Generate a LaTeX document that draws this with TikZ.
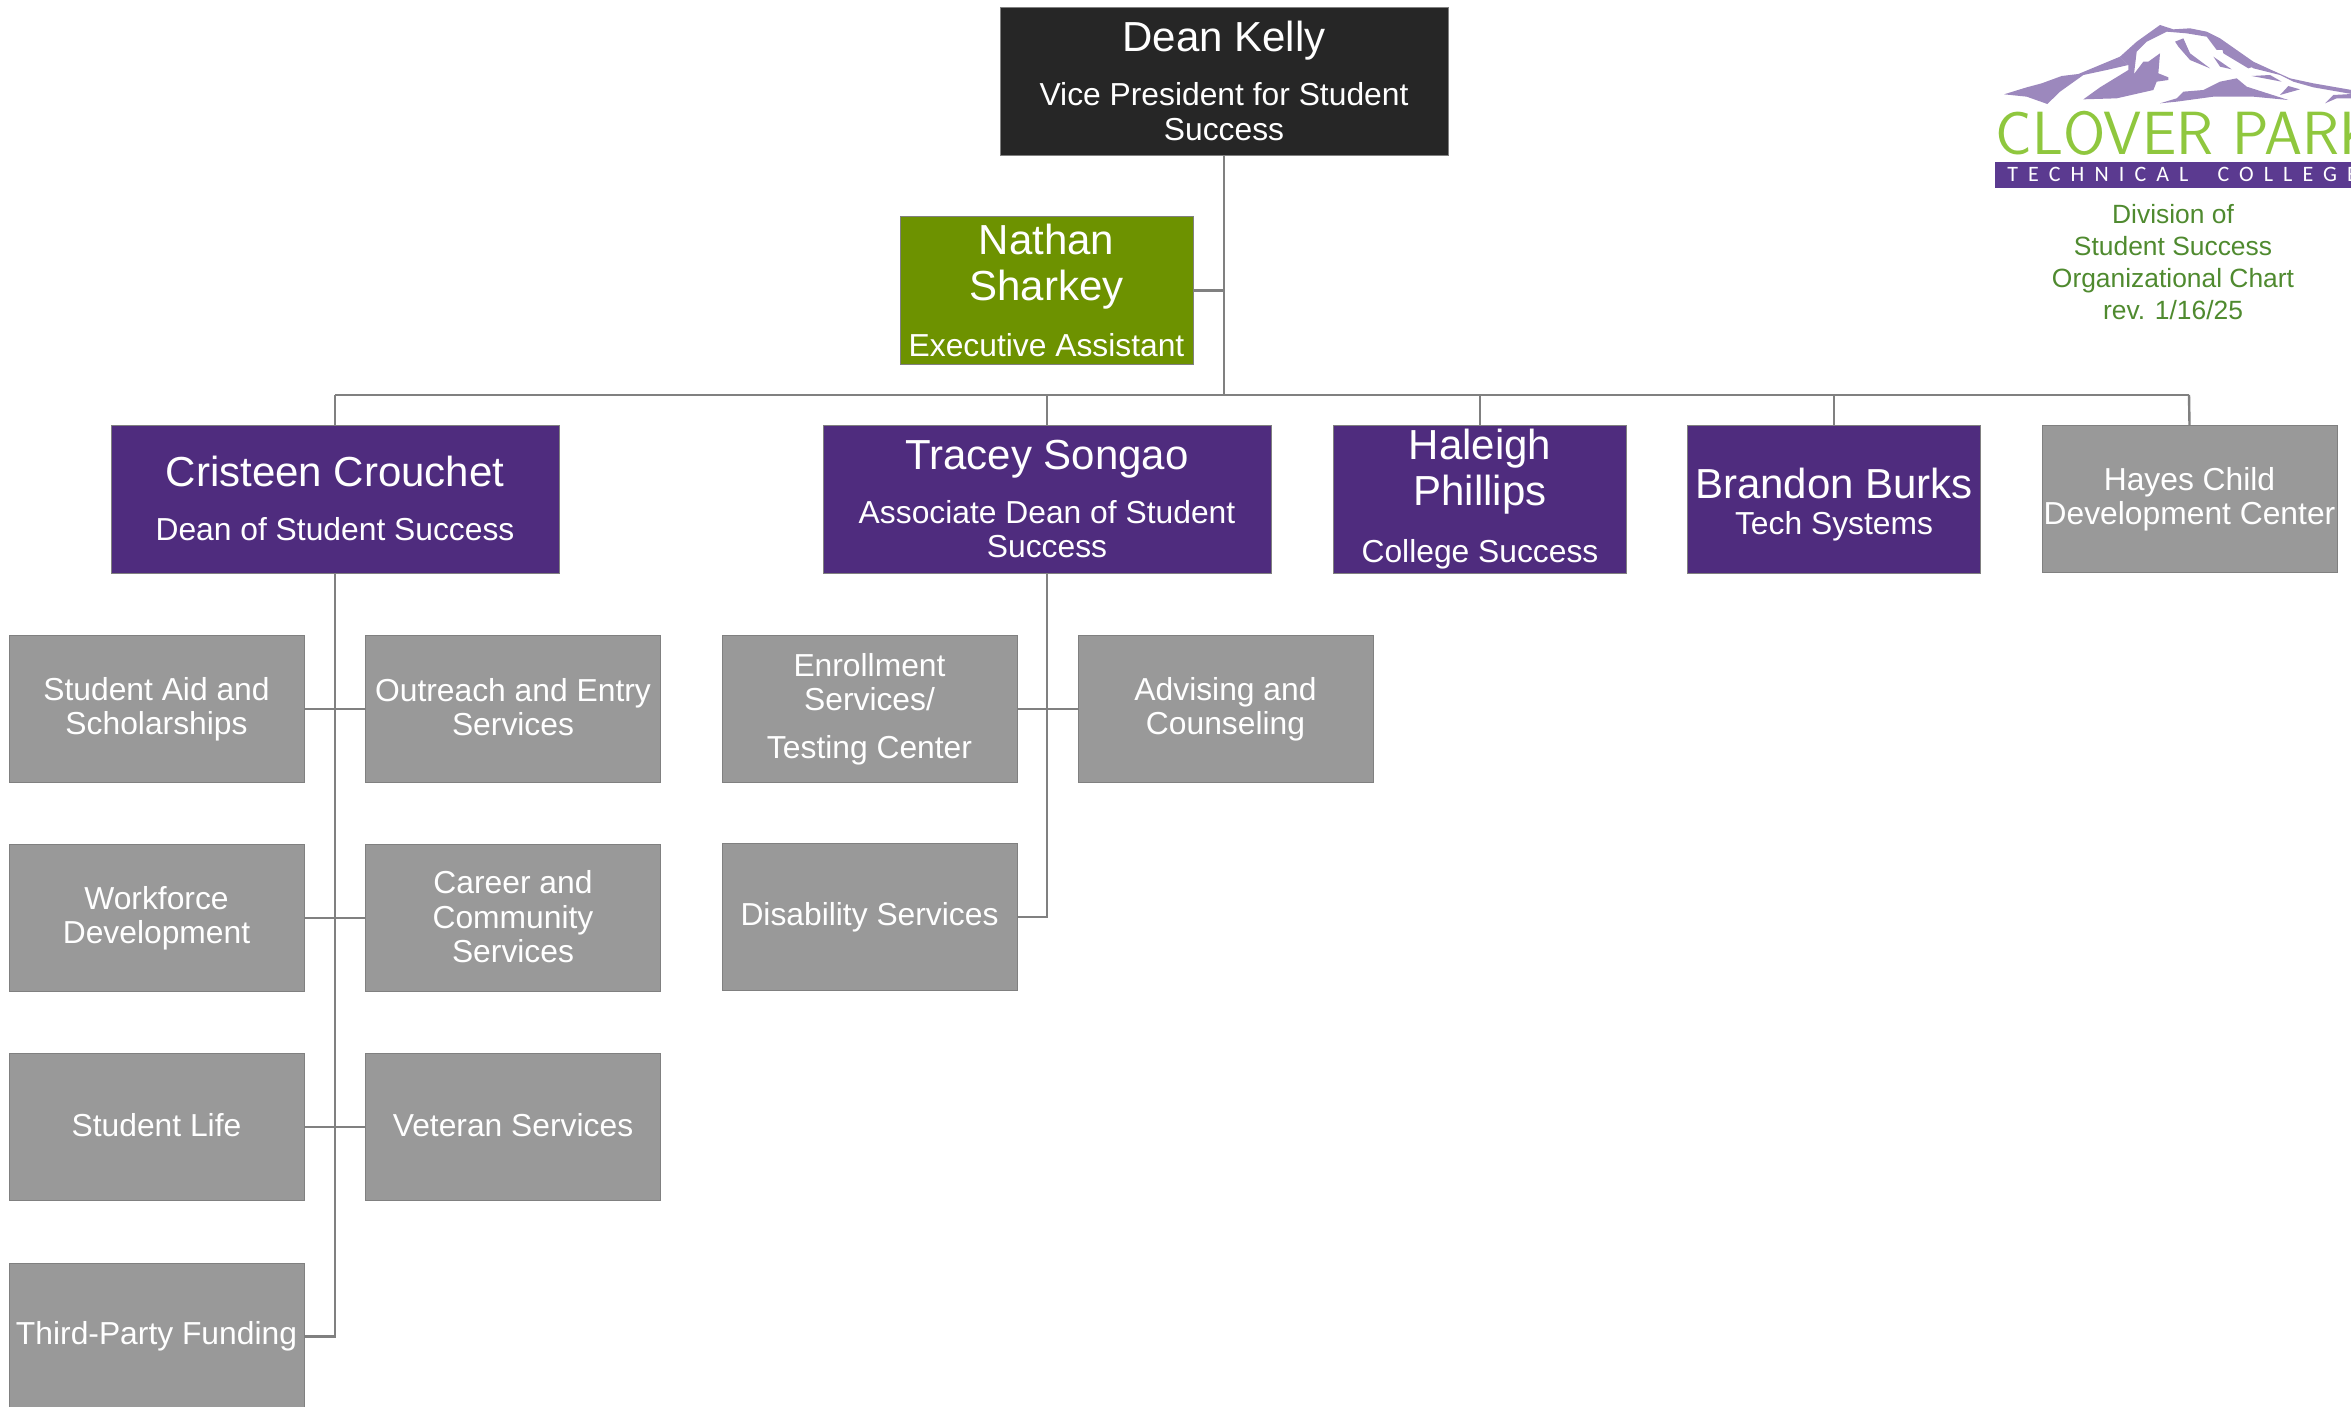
\documentclass[tikz,border=0pt]{standalone}
\usepackage{fontspec}
\setmainfont{Liberation Sans}
\newfontfamily\logofont{Carlito}
\definecolor{deanblack}{HTML}{262626}
\definecolor{leadpurple}{HTML}{4F2C7E}
\definecolor{assistgreen}{HTML}{6D9200}
\definecolor{unitgray}{HTML}{999999}
\definecolor{linegray}{HTML}{808080}
\definecolor{mountpurple}{HTML}{9C88BD}
\definecolor{logogreen}{HTML}{8FC73E}
\definecolor{logopurple}{HTML}{5B3A90}
\definecolor{divgreen}{HTML}{4F8A2F}
\newcommand{\namefont}{\fontsize{21}{23}\selectfont}
\newcommand{\subfont}{\fontsize{15.9}{17.2}\selectfont}
\tikzset{
	orgbox/.style={draw=black!50,line width=0.5pt,text=white,align=center,inner sep=0,outer sep=0,font=\subfont},
	widebox/.style={orgbox,minimum width=224pt,minimum height=74pt},
	unitbox/.style={orgbox,fill=unitgray,minimum width=147.5pt,minimum height=73.5pt},
	leadbox/.style={orgbox,fill=leadpurple,minimum width=146.5pt,minimum height=74pt},
	orgline/.style={draw=linegray,line width=1.2pt},
}
\begin{document}
\begin{tikzpicture}[x=0.5pt,y=-0.5pt]
	\clip (0,0) rectangle (2351,1407);
	\node[widebox,fill=deanblack,text depth=1.5pt] (kelly) at (1224,82) {\namefont Dean Kelly\\[10pt]\subfont Vice President for Student\\Success};
	\node[leadbox,fill=assistgreen] (sharkey) at (1046.5,290.5) {\namefont Nathan\\[5.5pt]\namefont Sharkey\\[11pt]\subfont Executive Assistant};
	\node[widebox,fill=leadpurple,text depth=1.5pt] (crouchet) at (335,499.5) {\namefont Cristeen Crouchet\\[10pt]\subfont Dean of Student Success};
	\node[widebox,fill=leadpurple] (songao) at (1047,499) {\namefont Tracey Songao\\[10pt]\subfont Associate Dean of Student\\Success};
	\node[leadbox] (phillips) at (1480,499) {\namefont Haleigh\\[2.5pt]\namefont Phillips\\[11.5pt]\subfont College Success};
	\node[leadbox] (burks) at (1834,499) {\rule{0pt}{20.5pt}\namefont Brandon Burks\\[1pt]\subfont Tech Systems};
	\node[unitbox] (hayes) at (2189.5,499) {Hayes Child\\Development Center};
	\node[unitbox] (aid) at (156.5,709) {Student Aid and\\Scholarships};
	\node[unitbox,text depth=2pt] (outreach) at (513,709) {Outreach and Entry\\Services};
	\node[unitbox] (workforce) at (156.5,918) {Workforce\\Development};
	\node[unitbox,text depth=1.5pt] (career) at (513,918) {Career and\\Community\\Services};
	\node[unitbox,text depth=2.5pt] (life) at (156.5,1127) {Student Life};
	\node[unitbox,text depth=2.5pt] (veteran) at (513,1127) {Veteran Services};
	\node[unitbox] (funding) at (156.5,1336.5) {Third-Party Funding};
	\node[unitbox] (enrollment) at (869.5,709) {Enrollment\\Services/\\[6.5pt]Testing Center};
	\node[unitbox] (advising) at (1225.5,709) {Advising and\\Counseling};
	\node[unitbox] (disability) at (869.5,917) {Disability Services};
	\coordinate (busleft) at (335,395);
	\coordinate (busright) at (2189,395);
	\coordinate (busmid) at (1224,395);
	\draw[orgline] (kelly.south) -- (busmid);
	\draw[orgline] (sharkey.east) -- (sharkey.east -| kelly.south);
	\draw[orgline] (busleft) -- (busright);
	\draw[orgline] (busleft) -- (crouchet.north);
	\draw[orgline] (songao.north |- busmid) -- (songao.north);
	\draw[orgline] (phillips.north |- busmid) -- (phillips.north);
	\draw[orgline] (burks.north |- busmid) -- (burks.north);
	\draw[orgline] (busright) -- (hayes.north);
	\draw[orgline] (crouchet.south) |- (funding.east);
	\draw[orgline] (aid.east) -- (outreach.west);
	\draw[orgline] (workforce.east) -- (career.west);
	\draw[orgline] (life.east) -- (veteran.west);
	\draw[orgline] (songao.south) |- (disability.east);
	\draw[orgline] (enrollment.east) -- (advising.west);
	\begin{scope}[shift={(1960,0)},x=0.16667pt,y=-0.16667pt]
		\fill[mountpurple] (132,283) -- (200,262) -- (245,250) -- (305,228) -- (355,222) -- (420,195) -- (480,170) -- (505,195) -- (440,210) -- (370,225) -- (300,275) -- (262,312) -- (200,290) -- cycle;
		\fill[mountpurple] (480,170) -- (530,125) -- (600,75) -- (640,88) -- (690,85) -- (740,95) -- (780,115) -- (830,150) -- (880,185) -- (930,208) -- (990,235) -- (1060,250) -- (1175,270) -- (1175,282) -- (1060,262) -- (1000,245) -- (960,225) -- (880,205) -- (800,150) -- (770,150) -- (740,110) -- (680,100) -- (620,95) -- (560,125) -- (530,155) -- (522,222) -- (550,185) -- (565,185) -- (600,160) -- (595,220) -- (625,232) -- (625,240) -- (590,245) -- (580,270) -- (470,295) -- (370,298) -- (420,262) -- (505,210) -- (505,195) -- cycle;
		\fill[mountpurple] (600,310) -- (650,295) -- (670,275) -- (730,270) -- (780,245) -- (830,235) -- (860,260) -- (985,300) -- (880,290) -- (760,290) -- (650,305) -- cycle;
		\fill[mountpurple] (645,125) -- (670,115) -- (690,160) -- (750,205) -- (690,180) -- (655,140) -- cycle;
		\fill[mountpurple] (785,140) -- (830,160) -- (880,200) -- (865,205) -- (790,160) -- cycle;
		\fill[mountpurple] (760,170) -- (815,208) -- (780,200) -- cycle;
		\fill[mountpurple] (875,228) -- (930,225) -- (965,245) -- cycle;
		\fill[mountpurple] (960,285) -- (985,258) -- (1020,268) -- cycle;
		\fill[mountpurple] (1095,310) -- (1120,285) -- (1175,282) -- (1175,295) -- (1130,295) -- cycle;
	\end{scope}
	\node[anchor=base west,inner sep=0,text=logogreen,font={\fontsize{30.5}{31}\selectfont\sffamily}] (clover) at (1995,155) {CLOVER PARK};
	\fill[logopurple] (1995,162) rectangle (2351,188);
	\node[anchor=base west,inner sep=0,text=white,font={\logofont\fontsize{11}{11}\selectfont\addfontfeature{LetterSpace=46}}] (technical) at (2007,182) {TECHNICAL\hspace{7pt} COLLEGE};
	\node[inner sep=0,text=divgreen,align=center,font={\fontsize{13.2}{16}\selectfont}] (division) at (2173,262) {Division of\\Student Success\\Organizational Chart\\rev. 1/16/25};
\end{tikzpicture}
\end{document}
